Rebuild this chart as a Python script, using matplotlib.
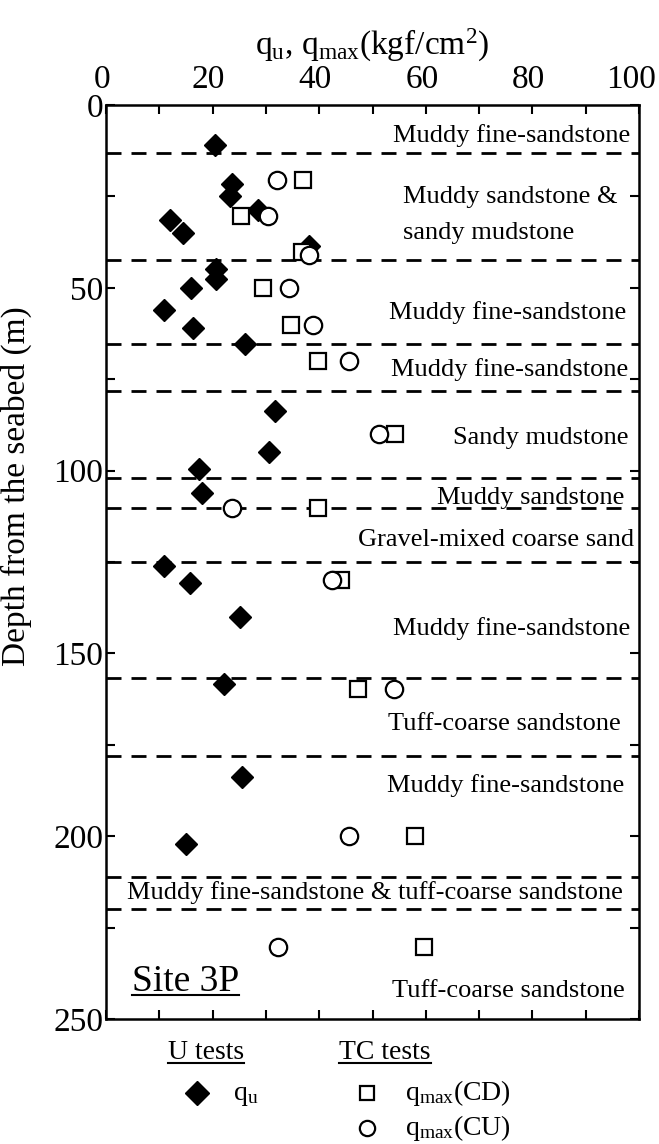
import matplotlib
matplotlib.use("Agg")
import matplotlib.pyplot as plt
from matplotlib.lines import Line2D
from matplotlib.transforms import ScaledTranslation

# ---------------- data ----------------
qu_value = [20.5, 23.6, 23.3, 28.6, 12.0, 14.4, 38.0, 20.7, 20.6, 15.9, 10.9, 16.4,
            26.1, 31.7, 30.6, 17.5, 18.1, 10.9, 15.8, 25.2, 22.2, 25.6, 15.1]
qu_depth = [11.0, 21.5, 25.0, 28.6, 31.5, 35.0, 38.5, 44.8, 47.5, 50.0, 56.0, 61.0,
            65.3, 83.8, 94.8, 99.6, 106.2, 126.2, 130.8, 140.0, 158.5, 183.8, 202.1]

cd_value = [37.0, 25.3, 36.8, 29.4, 34.8, 39.8, 54.3, 39.8, 44.1, 47.2, 57.9, 59.6]
cd_depth = [20.5, 30.3, 40.3, 50.0, 60.2, 70.0, 90.0, 110.1, 130.0, 159.8, 200.0, 230.2]

cu_value = [32.0, 30.4, 38.1, 34.4, 38.9, 45.6, 51.3, 23.6, 42.4, 54.0, 45.6, 32.2]
cu_depth = [20.5, 30.3, 41.0, 50.0, 60.2, 70.0, 90.0, 110.1, 130.0, 159.8, 200.0, 230.4]

boundaries = [13, 42.5, 65.5, 78.2, 102.1, 110.1, 125.1, 156.8, 178.0, 211.1, 220.0]

layer_names = ["Muddy fine-sandstone", "Muddy sandstone &", "sandy mudstone",
               "Muddy fine-sandstone", "Muddy fine-sandstone", "Sandy mudstone",
               "Muddy sandstone", "Gravel-mixed coarse sand", "Muddy fine-sandstone",
               "Tuff-coarse sandstone", "Muddy fine-sandstone",
               "Muddy fine-sandstone & tuff-coarse sandstone", "Tuff-coarse sandstone"]
layer_depths = [10.0, 26.7, 36.6, 58.5, 74.1, 92.8, 109.1, 120.6, 144.9, 170.9, 187.8, 217.3, 243.9]

x_ticks = [0, 20, 40, 60, 80, 100]
y_ticks = [0, 50, 100, 150, 200, 250]

# ---------------- style ----------------
plt.rcParams['font.family'] = ['Liberation Serif', 'DejaVu Serif']
plt.rcParams['mathtext.fontset'] = 'custom'
plt.rcParams['mathtext.rm'] = 'Liberation Serif'
plt.rcParams['mathtext.it'] = 'Liberation Serif:italic'

W, H = 659, 1144
fig = plt.figure(figsize=(W / 100, H / 100), dpi=100)
L, R, T, B = 106, 639, 105, 1019
ax = fig.add_axes([L / W, 1 - B / H, (R - L) / W, (B - T) / H])

def fx(px):
    return px / W

def fy(py):
    return 1 - py / H

for spine in ax.spines.values():
    spine.set_linewidth(1.8)

ax.set_xlim(0, 100)
ax.set_ylim(250, 0)
ax.xaxis.tick_top()
ax.xaxis.set_label_position('top')
ax.set_xticks(x_ticks)
ax.set_xticks(range(0, 101, 10), minor=True)
ax.set_yticks(y_ticks)
ax.set_yticks(range(0, 251, 25), minor=True)
ax.tick_params(which='both', direction='in', top=True, bottom=True, left=True, right=True,
               length=6.5, width=1.5, labelsize=24)
ax.tick_params(axis='x', which='both', labeltop=True, labelbottom=False, pad=7)
ax.tick_params(axis='y', which='both', pad=2)

# nudge top tick labels slightly left, as in the reference
for i, lab in enumerate(ax.get_xticklabels(which='major')):
    dx = -8 if i == len(x_ticks) - 1 else -4
    lab.set_transform(lab.get_transform() + ScaledTranslation(dx / 100, 0, fig.dpi_scale_trans))

ax.set_xlabel(r'q$_{\rm u}$, q$_{\rm max}$(kgf/cm$^{2}$)', fontsize=24, labelpad=7)
ax.set_ylabel('Depth from the seabed (m)', fontsize=24)
ax.yaxis.set_label_coords((32 - L) / (R - L), (B - 486) / (B - T))

# boundaries
for d in boundaries:
    ax.axhline(d, color='black', lw=2.0, linestyle=(0, (5.4, 3.6)), zorder=1.5)

# data
ax.plot(qu_value, qu_depth, linestyle='none', marker='D', ms=11.0, color='black',
        zorder=3, clip_on=False)
ax.plot(cd_value, cd_depth, linestyle='none', marker='s', ms=11.5, mfc='white',
        mec='black', mew=1.6, zorder=4)
ax.plot(cu_value, cu_depth, linestyle='none', marker='o', ms=12.5, mfc='white',
        mec='black', mew=1.6, zorder=5)

# layer labels
label_x = [98.3, 55.8, 55.8, 97.6, 98.0, 98.1, 97.3, 99.0, 98.3, 96.6, 97.3, 50.5, 97.3]
label_ha = ['right', 'left', 'left', 'right', 'right', 'right', 'right', 'right', 'right',
            'right', 'right', 'center', 'right']
for name, d, x, ha in zip(layer_names, layer_depths, label_x, label_ha):
    ax.text(x, d, name, ha=ha, va='baseline', fontsize=19, zorder=6)

site = ax.text(4.8, 242.3, 'Site 3P', ha='left', va='baseline', fontsize=27, zorder=6)

# legend (manual)
t_u = fig.text(fx(206), fy(1059), 'U tests', ha='center', va='baseline', fontsize=20)
t_tc = fig.text(fx(385), fy(1059), 'TC tests', ha='center', va='baseline', fontsize=20)
fig.add_artist(Line2D([fx(197)], [fy(1093)], marker='D', ms=12, color='black',
                      linestyle='none', transform=fig.transFigure))
fig.add_artist(Line2D([fx(367)], [fy(1093)], marker='s', ms=10.5, mfc='white', mec='black',
                      mew=1.6, linestyle='none', transform=fig.transFigure))
fig.add_artist(Line2D([fx(367)], [fy(1128)], marker='o', ms=11, mfc='white', mec='black',
                      mew=1.6, linestyle='none', transform=fig.transFigure))
fig.text(fx(233), fy(1100), r'q$_{\rm u}$', ha='left', va='baseline', fontsize=20)
fig.text(fx(405), fy(1100), r'q$_{\rm max}$(CD)', ha='left', va='baseline', fontsize=20)
fig.text(fx(405), fy(1135), r'q$_{\rm max}$(CU)', ha='left', va='baseline', fontsize=20)

# underlines
fig.canvas.draw()
renderer = fig.canvas.get_renderer()
inv = fig.transFigure.inverted()
for t, base_py in [(t_u, 1059), (t_tc, 1059), (site, 991)]:
    bb = t.get_window_extent(renderer).transformed(inv)
    yline = fy(base_py + 4)
    fig.add_artist(Line2D([bb.x0, bb.x1], [yline, yline], color='black', lw=1.5,
                          transform=fig.transFigure))

fig.savefig('out.png', dpi=100)
